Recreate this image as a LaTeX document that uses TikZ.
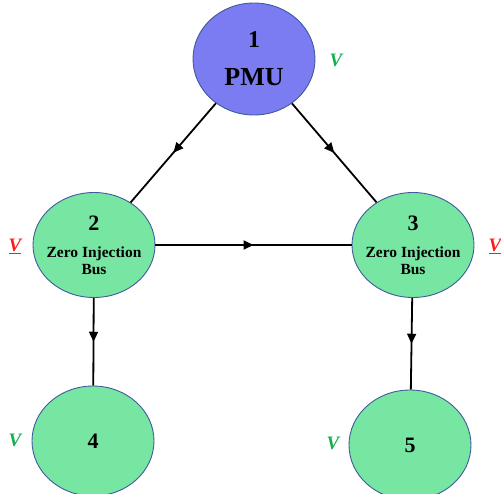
\documentclass[tikz,border=0pt]{standalone}
\usepackage{fontspec}
\setmainfont{Liberation Serif}
\usepackage{xcolor}
\usetikzlibrary{arrows.meta, shapes.geometric, decorations.markings}
\definecolor{PMUBlue}{HTML}{7B7BF2}
\definecolor{BusGreen}{HTML}{77E6A2}
\definecolor{RimBlue}{HTML}{3F5B9C}
\definecolor{VGreen}{HTML}{12B04E}
\definecolor{VRed}{HTML}{FF1A1A}

\begin{document}
\begin{tikzpicture}[
  x=1pt, y=-1pt,
  font=\bfseries,
  bus/.style={ellipse, draw=RimBlue, line width=0.9pt, fill=BusGreen, align=center,
              inner ysep=0pt, inner xsep=-8pt, minimum width=122pt, minimum height=105pt,
              font=\fontsize{15.5}{17}\selectfont\bfseries},
  pmu/.style={bus, fill=PMUBlue, minimum height=112pt, font=\fontsize{26}{28}\selectfont\bfseries},
  vok/.style={text=VGreen, font=\fontsize{19}{20}\selectfont\bfseries\itshape},
  vbad/.style={text=VRed, font=\fontsize{19}{20}\selectfont\bfseries\itshape},
  midarrow/.style={draw=black, line width=1.8pt, postaction={decorate},
    decoration={markings, mark=at position 0.5 with {\arrow{Triangle[length=10pt, width=9pt]}}}},
]
\useasboundingbox (0,0) rectangle (501,493);
% buses
\node[pmu] (b1) at (254,59) {{\fontsize{24}{26}\selectfont 1}\\[10pt]PMU};
\node[bus] (b2) at (94,245) {{\fontsize{22}{24}\selectfont 2}\\[10pt]Zero Injection\\Bus};
\node[bus] (b3) at (413,245) {{\fontsize{22}{24}\selectfont 3}\\[10pt]Zero Injection\\Bus};
\node[bus, minimum height=110pt] (b4) at (93,441) {\fontsize{22}{24}\selectfont 4};
\node[bus, minimum height=110pt] (b5) at (410,445) {\fontsize{22}{24}\selectfont 5};
% voltage labels
\node[vok] (v1) at (336,60) {V};
\node[vbad] (v2) at (15,246) {\underline{V}};
\node[vbad] (v3) at (495,246) {\underline{V}};
\node[vok] (v4) at (15,440) {V};
\node[vok] (v5) at (333,443) {V};
% branches
\draw[midarrow] (b1) -- (b2);
\draw[midarrow] (b1) -- (b3);
\draw[midarrow] (b2) -- (b3);
\draw[midarrow] (b2) -- (b4);
\draw[midarrow] (b3) -- (b5);
\end{tikzpicture}
\end{document}
